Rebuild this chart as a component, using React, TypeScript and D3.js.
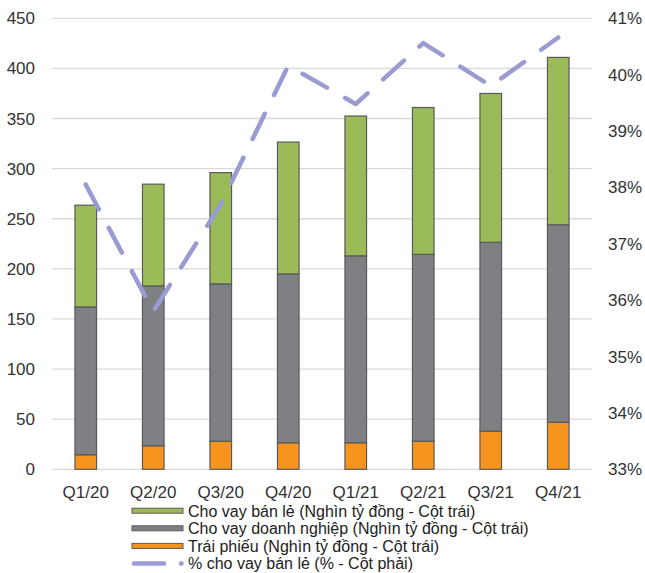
import React from "react";
import * as d3 from "d3";

const categories = ["Q1/20", "Q2/20", "Q3/20", "Q4/20", "Q1/21", "Q2/21", "Q3/21", "Q4/21"];
const bonds = [14.5, 23.5, 28, 26.5, 26.5, 28, 38, 47];
const corporate = [147.5, 159.5, 157, 168.5, 186.5, 186.5, 188.5, 197];
const retail = [101.5, 101.5, 111, 131.5, 139.5, 146.5, 148.5, 167];
const retailPct = [38.05, 35.8, 37.7, 40.16, 39.48, 40.56, 39.8, 40.66];
const leftTicks = [0, 50, 100, 150, 200, 250, 300, 350, 400, 450];
const rightTicks = [33, 34, 35, 36, 37, 38, 39, 40, 41];
const legendLabels = [
  "Cho vay bán lẻ (Nghìn tỷ đồng - Cột trái)",
  "Cho vay doanh nghiệp (Nghìn tỷ đồng - Cột trái)",
  "Trái phiếu (Nghìn tỷ đồng - Cột trái)",
  "% cho vay bán lẻ (% - Cột phải)",
];

const W = 645, H = 573;
const left = 52, right = 592, top = 18.3, bottom = 469.3;
const font = "'Liberation Sans', Arial, sans-serif";
const green = "#9bbb59", gray = "#7f8083", orange = "#f7941d", lineColor = "#9b9bd3", edge = "#5a5a5a";

export default function App() {
  const x = d3.scaleBand().domain(categories).range([left, right]).paddingInner(0.68).paddingOuter(0.34);
  const y = d3.scaleLinear().domain([0, 450]).range([bottom, top]);
  const y2 = d3.scaleLinear().domain([33, 41]).range([bottom, top]);
  const series = [
    { vals: bonds, color: orange },
    { vals: corporate, color: gray },
    { vals: retail, color: green },
  ];
  const cx = (c: string) => (x(c) as number) + x.bandwidth() / 2;
  const line = d3.line<number>().x((_, i) => cx(categories[i])).y((d) => y2(d));
  const legendColors = [green, gray, orange];
  return (
    <svg width={W} height={H} style={{ position: "absolute", left: 0, top: 0, background: "#fff" }}>
      {leftTicks.map((t) => (
        <line key={t} x1={left} x2={right} y1={y(t)} y2={y(t)} stroke="#d9d9d9" strokeWidth={1.3} />
      ))}
      {leftTicks.map((t) => (
        <text key={"l" + t} x={35} y={y(t) + 6} textAnchor="end" fontFamily={font} fontSize={17} fill="#333">{t}</text>
      ))}
      {rightTicks.map((t) => (
        <text key={"r" + t} x={608} y={y2(t) + 6} textAnchor="start" fontFamily={font} fontSize={17} fill="#333">{t}%</text>
      ))}
      {categories.map((c, i) => {
        let acc = 0;
        return (
          <g key={c}>
            {series.map((s, k) => {
              const y0 = acc;
              acc += s.vals[i];
              return (
                <rect key={k} x={x(c)} width={x.bandwidth()} y={y(acc)} height={y(y0) - y(acc)} fill={s.color} stroke={edge} strokeWidth={1.2} />
              );
            })}
            <text x={cx(c)} y={498} textAnchor="middle" fontFamily={font} fontSize={17} fill="#333">{c}</text>
          </g>
        );
      })}
      <path d={line(retailPct) || ""} fill="none" stroke={lineColor} strokeWidth={4.5} strokeDasharray="28 21" strokeLinecap="round" strokeLinejoin="round" />
      {legendLabels.map((l, i) => {
        const ly = 510.7 + i * 17.6;
        return (
          <g key={l}>
            {i < 3 ? (
              <rect x={132} y={ly - 2.5} width={51} height={5} fill={legendColors[i]} stroke={edge} strokeWidth={1} />
            ) : (
              <path d={`M134,${ly}L164,${ly}M181,${ly}L181.5,${ly}`} stroke={lineColor} strokeWidth={4.5} strokeLinecap="round" />
            )}
            <text x={188} y={ly + 5.8} fontFamily={font} fontSize={16} fill="#222">{l}</text>
          </g>
        );
      })}
    </svg>
  );
}
